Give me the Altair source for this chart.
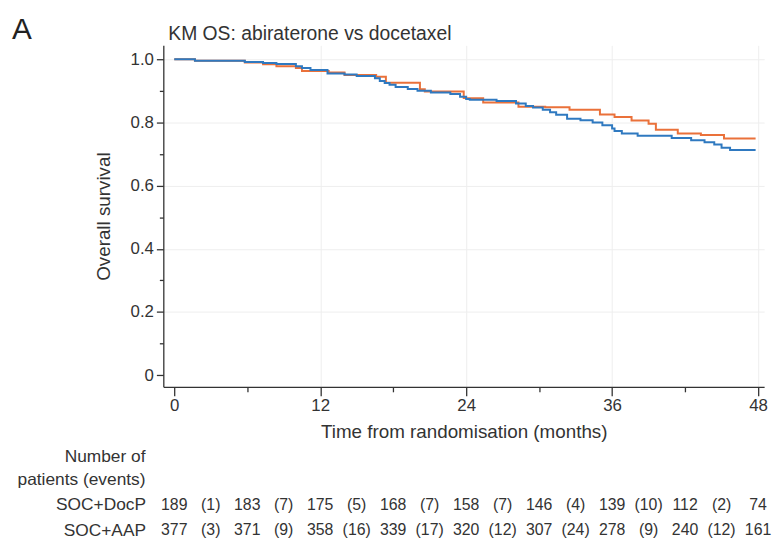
import altair as alt
import pandas as pd

# Kaplan-Meier overall survival, step points (months, survival) per arm
docp_time = [0, 1.7, 5.8, 7.3, 8.4, 10.0, 10.5, 12.7, 14.0, 16.6, 17.4, 20.2, 20.6,
             23.8, 25.4, 28.3, 30.5, 32.5, 35.0, 36.2, 37.6, 39.0, 39.6, 41.4,
             43.3, 45.2, 47.8]
docp_surv = [1.0, 0.995, 0.990, 0.984, 0.978, 0.972, 0.963, 0.958, 0.950, 0.945,
             0.926, 0.905, 0.898, 0.877, 0.863, 0.850, 0.848, 0.840, 0.825, 0.817,
             0.806, 0.796, 0.777, 0.765, 0.760, 0.749, 0.749]

aap_time = [0, 1.7, 5.8, 7.3, 8.4, 10.0, 10.5, 11.2, 12.6, 14.0, 15.0, 16.5, 16.9,
            17.3, 17.7, 18.2, 19.2, 20.0, 21.1, 22.7, 23.5, 24.0, 24.3, 26.5, 28.1,
            28.9, 29.5, 30.3, 30.9, 31.4, 32.3, 33.4, 34.4, 35.2, 36.0, 36.2, 36.8,
            38.1, 40.9, 42.5, 43.6, 44.4, 45.0, 45.7, 47.8]
aap_surv = [1.0, 0.995, 0.991, 0.988, 0.985, 0.978, 0.972, 0.966, 0.955, 0.952,
            0.947, 0.940, 0.931, 0.925, 0.919, 0.912, 0.906, 0.900, 0.895, 0.890,
            0.881, 0.874, 0.872, 0.868, 0.860, 0.852, 0.847, 0.840, 0.832, 0.824,
            0.812, 0.807, 0.800, 0.791, 0.781, 0.773, 0.765, 0.758, 0.751, 0.744,
            0.737, 0.730, 0.720, 0.713, 0.713]

arms = ["SOC+DocP", "SOC+AAP"]
arm_colors = ["#EA713A", "#2F79C0"]

# Number at risk (every 6 months) and events in each interval
risk_time = [0, 6, 12, 18, 24, 30, 36, 42, 48]
event_time = [3, 9, 15, 21, 27, 33, 39, 45]
docp_at_risk = [189, 183, 175, 168, 158, 146, 139, 112, 74]
docp_events = [1, 7, 5, 7, 7, 4, 10, 2]
aap_at_risk = [377, 371, 358, 339, 320, 307, 278, 240, 161]
aap_events = [3, 9, 16, 17, 12, 24, 9, 12]

panel_label = "A"
plot_title = "KM OS: abiraterone vs docetaxel"
header_lines = ["Number of", "patients (events)"]

FONT = "Liberation Sans"
INK = "#333333"

docp_df = pd.DataFrame({"month": docp_time, "surv": docp_surv, "arm": arms[0]})
aap_df = pd.DataFrame({"month": aap_time, "surv": aap_surv, "arm": arms[1]})

rows = []
for arm, at_risk, events in [(arms[0], docp_at_risk, docp_events),
                             (arms[1], aap_at_risk, aap_events)]:
    for t, n in zip(risk_time, at_risk):
        rows.append({"arm": arm, "month": t, "label": str(n)})
    for t, e in zip(event_time, events):
        rows.append({"arm": arm, "month": t, "label": f"({e})"})
table_df = pd.DataFrame(rows)

x_scale = alt.Scale(domain=[-0.9, 48.5], nice=False, zero=False)
y_scale = alt.Scale(domain=[-0.037, 1.044], nice=False, zero=False)
color_scale = alt.Scale(domain=arms, range=arm_colors)

x_axis = alt.Axis(
    title="Time from randomisation (months)",
    values=risk_time,
    labelExpr="datum.value % 12 === 0 ? datum.label : ''",
    tickSize={"condition": {"test": "datum.value % 12 === 0", "value": 9}, "value": 5},
    gridOpacity={"condition": {"test": "datum.value % 12 === 0 && datum.value > 0", "value": 1}, "value": 0},
    grid=True, gridColor="#eeeeee",
    domainColor=INK, tickColor=INK, domainWidth=1.3, tickWidth=1.3,
    labelFontSize=17, labelColor=INK, labelPadding=2,
    titleFontSize=19, titleFontWeight="normal", titleColor=INK, titlePadding=9,
)
y_axis = alt.Axis(
    title="Overall survival",
    values=[i / 10 for i in range(11)],
    labelExpr="round(datum.value * 10) % 2 !== 0 ? '' : (datum.value === 0 ? '0' : format(datum.value, '.1f'))",
    tickSize={"condition": {"test": "round(datum.value * 10) % 2 === 0", "value": 7}, "value": 4},
    gridOpacity={"condition": {"test": "round(datum.value * 10) % 2 === 0 && datum.value > 0", "value": 1}, "value": 0},
    grid=True, gridColor="#eeeeee",
    domainColor=INK, tickColor=INK, domainWidth=1.3, tickWidth=1.3,
    labelFontSize=17, labelColor=INK, labelPadding=3,
    titleFontSize=19, titleFontWeight="normal", titleColor=INK, titlePadding=17,
)

def km_line(df):
    return alt.Chart(df).mark_line(interpolate="step-after", strokeWidth=2).encode(
        x=alt.X("month:Q", scale=x_scale, axis=x_axis),
        y=alt.Y("surv:Q", scale=y_scale, axis=y_axis),
        color=alt.Color("arm:N", scale=color_scale, legend=None),
    )

# Panel letter and plot heading sit on a shared baseline above the plot
panel = alt.Chart(pd.DataFrame({"t": [panel_label]})).mark_text(
    font=FONT, fontSize=30, align="left", baseline="alphabetic", color="#222222"
).encode(text="t:N", x=alt.value(-153), y=alt.value(-6))
heading = alt.Chart(pd.DataFrame({"t": [plot_title]})).mark_text(
    font=FONT, fontSize=19.5, align="left", baseline="alphabetic", color=INK
).encode(text="t:N", x=alt.value(5), y=alt.value(-5))

km = alt.layer(km_line(docp_df), km_line(aap_df), panel, heading).properties(
    width=607, height=345
)

numbers = alt.Chart(table_df).mark_text(font=FONT, fontSize=16, color=INK).encode(
    x=alt.X("month:Q", scale=x_scale, axis=None),
    y=alt.Y("arm:N", sort=arms, scale=alt.Scale(paddingInner=0, paddingOuter=0),
            axis=alt.Axis(title=None, domain=False, ticks=False, labelFontSize=17.5,
                          labelColor=INK, labelPadding=18)),
    text="label:N",
)
header = alt.Chart(pd.DataFrame({"h": [0]})).mark_text(
    text=header_lines, lineHeight=23, font=FONT, fontSize=17.5,
    color=INK, align="right", baseline="middle",
).encode(x=alt.value(-18), y=alt.value(-35))

table = alt.layer(numbers, header).properties(width=607, height=52)

chart = alt.vconcat(km, table, spacing=7).properties(
    padding={"left": 12, "top": 13, "right": 4, "bottom": 4}
).configure(font=FONT).configure_view(stroke=None)

chart.save("out.html", embed_options={"renderer": "svg", "actions": False})
